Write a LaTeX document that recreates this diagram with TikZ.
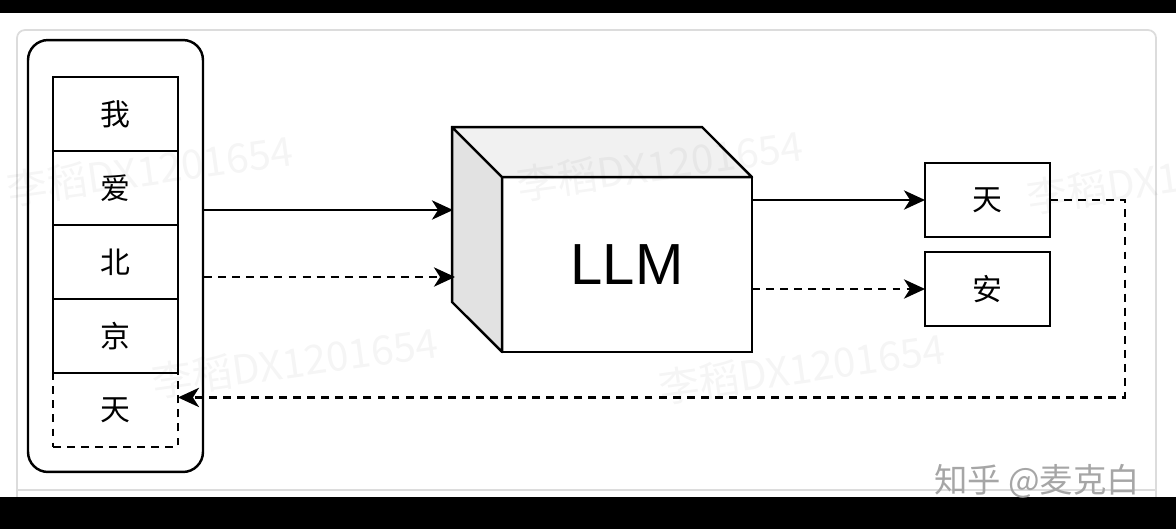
\documentclass[tikz,border=0pt]{standalone}
\usepackage{fontspec}
\setmainfont{Liberation Sans}
\newfontfamily\cjkfont{Noto Sans CJK SC}
\usepackage{tikz}
\usepackage{xcolor}
\usetikzlibrary{arrows.meta,positioning,calc}
\definecolor{framegray}{HTML}{DCDCDC}
\definecolor{sidegray}{HTML}{E2E2E2}
\definecolor{topgray}{HTML}{F1F1F1}
\definecolor{signgray}{HTML}{A6A6A6}
\tikzset{
  seqbox/.style     = {rectangle, draw=black, line width=1.4pt, rounded corners=0.4cm,
                       minimum width=3.5cm, minimum height=8.64cm, inner sep=0pt},
  tokcell/.style    = {rectangle, draw=black, line width=1.4pt, fill=white,
                       minimum width=2.5cm, minimum height=1.48cm, inner sep=0pt, outer sep=0pt,
                       font=\cjkfont\fontsize{17}{17}\selectfont},
  tokguess/.style   = {tokcell, fill=none, dash pattern=on 4.5pt off 3.5pt},
  llmface/.style    = {rectangle, draw=black, line width=1.4pt, fill=white,
                       minimum width=5cm, minimum height=3.5cm, inner sep=0pt, outer sep=0pt,
                       font=\fontsize{33}{33}\selectfont},
  llmside/.style    = {draw=black, line width=1.4pt, line join=round},
  flowarrow/.style  = {-{Stealth[length=12pt,width=11pt,inset=3.5pt]}, line width=1.3pt},
  guessarrow/.style = {flowarrow, dash pattern=on 4.5pt off 3.5pt},
  wmark/.style      = {font=\cjkfont\fontsize{23}{23}\selectfont, text=black, opacity=0.04, rotate=8},
}

\begin{document}
\begin{tikzpicture}[x=0.02cm, y=-0.02cm, node distance=0pt]
\useasboundingbox (0,0) rectangle (1176,529);
\clip (0,0) rectangle (1176,529);
% screenshot frame
\draw[framegray, line width=1pt, rounded corners=0.16cm] (17,497) |- (1156,30) -- (1156,497);
\draw[framegray, line width=1pt] (17,490) -- (1156,490);
\fill[black] (0,0) rectangle (1176,13);
\fill[black] (0,497) rectangle (1176,529);

% prompt tokens
\node[seqbox] (seq) at (115.5,256) {};
\node[tokcell] (w1) at (115.5,114) {我};
\node[tokcell, below=of w1] (w2) {爱};
\node[tokcell, below=of w2] (w3) {北};
\node[tokcell, below=of w3] (w4) {京};
\node[tokguess, below=of w4] (w5) {天};

% model block
\node[llmface] (llm) at (627,264.5) {LLM};
\filldraw[llmside, fill=sidegray] (llm.north west) -- ++(-50,-50) -- ++(0,175) -- (llm.south west) -- cycle;
\filldraw[llmside, fill=topgray] (llm.north west) -- ++(-50,-50) -- ++(250,0) -- (llm.north east) -- cycle;
\coordinate (inA) at (453,210);
\coordinate (inB) at (455,277);

% outputs
\node[tokcell] (o1) at (987.5,200) {天};
\node[tokcell, below=0.3cm of o1] (o2) {安};

% arrows
\draw[flowarrow] (seq.east |- inA) -- (inA);
\draw[guessarrow] (seq.east |- inB) -- (inB);
\draw[flowarrow] (llm.east |- o1) -- (o1);
\draw[guessarrow] (llm.east |- o2) -- (o2);
\draw[guessarrow] (o1.east) -- ++(75,0) |- ([yshift=0.25cm]w5.east);

% watermarks
\node[wmark] (wm1) at (150,170) {李稻DX1201654};
\node[wmark] (wm2) at (660,165) {李稻DX1201654};
\node[wmark] (wm3) at (295,362) {李稻DX1201654};
\node[wmark] (wm4) at (802,368) {李稻DX1201654};
\node[wmark] (wm5) at (1170,178) {李稻DX1201654};
\node[font=\cjkfont\fontsize{19}{19}\selectfont, text=signgray] (sign) at (1037,481) {知乎 @麦克白};
\end{tikzpicture}
\end{document}
